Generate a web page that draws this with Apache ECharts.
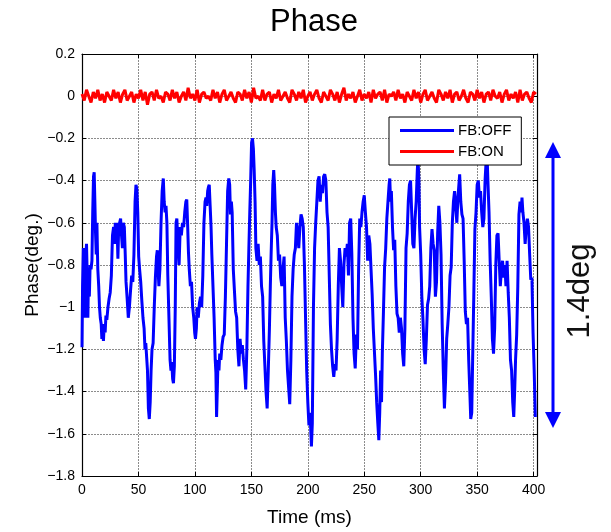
<!DOCTYPE html>
<html>
<head>
<meta charset="utf-8">
<script src="https://cdn.jsdelivr.net/npm/echarts@6/dist/echarts.min.js"></script>
<style>html,body{margin:0;padding:0;background:#fff;}#c{width:611px;height:532px;}</style>
</head>
<body>
<div id="c"></div>
<script>
const chartTitle = 'Phase';
const xName = 'Time (ms)';
const yName = 'Phase(deg.)';
const seriesNames = ['FB:OFF', 'FB:ON'];
const annotationText = '1.4deg';

// FB:OFF (blue) samples: time (ms) and phase (deg)
const timeOff = [
  0, 0.5, 1.2, 2, 2.6, 3.2, 4, 4.6, 5.2, 5.8,
  6.5, 7.2, 8, 8.8, 9.5, 10.2, 10.8, 11.4, 12, 12.6,
  13.2, 14, 14.8, 15.5, 16.2, 17, 17.6, 18.3, 19, 19.7,
  20.5, 21.2, 22, 23, 24, 25, 26, 27, 28, 28.8,
  29.5, 30.3, 31, 31.8, 32.5, 33.3, 34.2, 35, 35.8, 36.6,
  37.5, 38.3, 39, 40, 41, 42, 43, 44, 45, 46,
  47, 47.8, 48.6, 49.4, 50.2, 51, 52, 53, 54, 55,
  55.8, 56.5, 57.3, 58, 58.8, 59.6, 60.4, 61.2, 62, 63,
  64, 65, 66, 66.7, 67.4, 68.1, 69, 70, 71, 72,
  72.8, 73.6, 74.4, 75.2, 76, 77, 78, 78.8, 79.5, 80.3,
  81, 81.8, 82.6, 83.3, 84, 85, 86, 87, 88, 89,
  90, 91, 92, 92.8, 93.5, 94.3, 95, 96, 97, 98,
  99, 99.8, 100.5, 101.3, 102, 103, 104, 105, 106, 107,
  108, 109, 109.8, 110.5, 111.3, 112, 112.7, 113.5, 114.3, 115,
  116, 117, 118, 118.6, 119.2, 119.8, 120.5, 121.3, 122, 123,
  124, 125, 126, 127, 128, 129, 130, 130.8, 131.5, 132.3,
  133, 134, 135, 136, 137, 138, 139, 140, 141, 142,
  143, 144, 145, 146, 147, 147.8, 148.6, 149.4, 150.2, 151,
  151.8, 152.5, 153.3, 154, 155, 156, 157, 158, 159, 160,
  161, 162, 163, 164, 165, 166, 166.8, 167.5, 168.3, 169,
  169.8, 170.5, 171.3, 172, 173, 174, 175, 176, 177, 178,
  179, 180, 181, 182, 183, 184, 185, 186, 187, 188,
  189, 190, 191, 192, 193, 194, 195, 196, 197, 198,
  199, 200, 201, 202, 203.2, 204, 205, 206, 207, 208,
  209, 210, 211, 212, 213, 214, 215, 216, 217, 218,
  219, 220, 221, 222, 223, 224, 225, 226, 227, 228,
  229, 230, 231, 232, 233, 234, 235, 236, 237, 238,
  239, 240, 241, 242, 243, 244, 245, 246, 247, 248,
  249, 250, 251, 252, 253, 254, 255, 256, 257, 258,
  259, 260, 261, 262, 262.9, 263.7, 264.5, 265.3, 266, 267,
  268, 269, 270, 271, 272, 272.6, 273.3, 274, 275, 276,
  277, 278, 279, 280, 281, 282, 283, 284, 285, 286,
  287, 288, 289, 290, 291, 292, 293, 294, 295, 296,
  297, 297.6, 298.4, 299, 300, 301, 302, 303, 304, 305,
  306, 307, 308, 309, 310, 311, 312, 313, 314, 315,
  316, 317, 318, 319, 320, 321, 322, 323, 324, 325,
  326, 327, 328, 329, 330, 331, 332, 333, 334.5, 335.5,
  336.5, 337.5, 338.5, 339.5, 340.5, 341.5, 342.5, 343.5, 344.3, 345.2,
  346, 347, 348, 349, 350, 351, 352, 353, 354, 355,
  356, 357, 358, 358.8, 359.5, 360.5, 361.5, 362.5, 363.5, 364.5,
  365.5, 366.5, 367.5, 368.5, 369.5, 370.5, 371.5, 372.5, 373.5, 374.5,
  375.5, 376.5, 377.5, 378.5, 379.5, 380.5, 381.5, 382.4, 383.2, 384,
  385, 386, 387, 388, 389, 389.7, 390.5, 391.5, 392.5, 393.5,
  394.5, 395.5, 396.5, 397.5, 398.5, 399.5, 400.5, 401.5
];
const phaseOff = [
  -1.19, -0.90, -0.72, -0.95, -1.05, -0.78, -0.70, -0.85, -1.05, -0.82,
  -0.95, -0.80, -0.82, -0.78, -0.55, -0.38, -0.36, -0.50, -0.65, -0.75,
  -0.60, -0.82, -0.90, -1.00, -1.05, -1.08, -1.15, -1.12, -1.16, -1.08,
  -1.12, -1.04, -1.06, -1.00, -0.96, -0.93, -0.85, -0.66, -0.62, -0.70,
  -0.60, -0.66, -0.60, -0.77, -0.62, -0.60, -0.58, -0.66, -0.72, -0.60,
  -0.62, -0.75, -0.88, -0.96, -1.05, -1.00, -0.92, -0.85, -0.88, -0.75,
  -0.50, -0.42, -0.44, -0.55, -0.76, -0.82, -0.88, -0.97, -1.05, -1.10,
  -1.20, -1.17, -1.24, -1.30, -1.48, -1.53, -1.45, -1.30, -1.20, -1.17,
  -1.00, -0.86, -0.76, -0.73, -0.82, -0.90, -0.82, -0.60, -0.45, -0.39,
  -0.50, -0.55, -0.52, -0.60, -0.85, -1.05, -1.25, -1.30, -1.26, -1.34,
  -1.36, -1.28, -1.00, -0.60, -0.58, -0.70, -0.80, -0.62, -0.66, -0.60,
  -0.62, -0.55, -0.50, -0.49, -0.60, -0.74, -0.82, -0.90, -0.88, -1.00,
  -1.05, -1.12, -1.15, -1.10, -1.00, -1.05, -0.98, -0.95, -1.00, -0.85,
  -0.60, -0.50, -0.48, -0.52, -0.45, -0.43, -0.42, -0.52, -0.62, -0.75,
  -0.90, -1.05, -1.25, -1.31, -1.52, -1.40, -1.25, -1.30, -1.22, -1.25,
  -1.18, -1.14, -1.13, -0.95, -0.70, -0.45, -0.39, -0.42, -0.56, -0.50,
  -0.55, -0.82, -0.92, -1.02, -1.05, -1.20, -1.28, -1.15, -1.22, -1.18,
  -1.25, -1.30, -1.39, -1.20, -0.90, -0.72, -0.55, -0.40, -0.22, -0.20,
  -0.25, -0.35, -0.50, -0.72, -0.78, -0.70, -0.80, -0.76, -0.90, -0.95,
  -1.16, -1.28, -1.40, -1.48, -1.30, -1.10, -0.90, -0.75, -0.60, -0.42,
  -0.35, -0.42, -0.55, -0.62, -0.66, -0.78, -0.75, -0.86, -0.90, -0.82,
  -0.76, -1.05, -1.16, -1.30, -1.38, -1.46, -1.25, -0.95, -0.82, -0.75,
  -0.72, -0.60, -0.65, -0.72, -0.62, -0.56, -0.58, -0.62, -0.80, -1.05,
  -1.30, -1.45, -1.56, -1.50, -1.66, -1.55, -1.00, -0.72, -0.60, -0.50,
  -0.40, -0.38, -0.50, -0.42, -0.46, -0.38, -0.37, -0.40, -0.55, -0.62,
  -0.85, -1.08, -1.20, -1.28, -1.33, -1.27, -1.30, -1.15, -0.90, -0.72,
  -0.78, -0.90, -1.00, -0.80, -0.72, -0.76, -0.70, -0.85, -0.60, -0.58,
  -0.75, -1.05, -1.22, -1.29, -1.13, -1.20, -0.82, -0.58, -0.62, -0.55,
  -0.50, -0.47, -0.55, -0.62, -0.78, -0.66, -0.70, -0.82, -0.94, -1.10,
  -1.21, -1.32, -1.45, -1.55, -1.63, -1.50, -1.30, -1.45, -1.22, -1.02,
  -0.81, -0.72, -0.58, -0.50, -0.42, -0.39, -0.50, -0.45, -0.62, -0.73,
  -0.68, -0.90, -1.03, -1.05, -1.12, -1.05, -1.10, -1.22, -1.28, -1.10,
  -0.72, -0.65, -0.50, -0.42, -0.40, -0.55, -0.70, -0.72, -0.58, -0.50,
  -0.35, -0.29, -0.40, -0.62, -0.75, -0.95, -1.06, -1.20, -1.27, -1.15,
  -0.99, -0.96, -0.90, -0.72, -0.63, -0.70, -0.73, -0.95, -0.88, -0.65,
  -0.52, -0.60, -0.75, -1.08, -1.30, -1.48, -1.35, -1.15, -1.08, -1.00,
  -0.85, -0.81, -0.60, -0.50, -0.45, -0.52, -0.60, -0.48, -0.37, -0.50,
  -0.56, -0.58, -0.78, -1.02, -1.08, -1.05, -1.25, -1.40, -1.53, -1.50,
  -1.25, -0.95, -0.63, -0.55, -0.42, -0.40, -0.48, -0.45, -0.55, -0.62,
  -0.58, -0.40, -0.30, -0.28, -0.40, -0.55, -0.78, -0.95, -1.15, -1.22,
  -1.10, -0.80, -0.66, -0.65, -0.78, -0.90, -0.82, -0.78, -0.86, -0.80,
  -0.90, -0.78, -0.93, -1.05, -1.25, -1.30, -1.45, -1.52, -1.40, -1.25,
  -1.13, -0.90, -0.56, -0.50, -0.55, -0.48, -0.55, -0.60, -0.70, -0.62,
  -0.58, -0.62, -0.75, -0.87, -0.86, -1.12, -1.30, -1.52
];

// FB:ON (red) samples
const timeOn = [
  0, 2, 4, 6, 8, 10, 12, 14, 16, 18, 20, 22, 24, 26, 28, 30, 32, 34, 36, 38,
  40, 42, 44, 46, 48, 50, 52, 54, 56, 58, 60, 62, 64, 66, 68, 70, 72, 74, 76, 78,
  80, 82, 84, 86, 88, 90, 92, 94, 96, 98, 100, 102, 104, 106, 108, 110, 112, 114, 116, 118,
  120, 122, 124, 126, 128, 130, 132, 134, 136, 138, 140, 142, 144, 146, 148, 150, 152, 154, 156, 158,
  160, 162, 164, 166, 168, 170, 172, 174, 176, 178, 180, 182, 184, 186, 188, 190, 192, 194, 196, 198,
  200, 202, 204, 206, 208, 210, 212, 214, 216, 218, 220, 222, 224, 226, 228, 230, 232, 234, 236, 238,
  240, 242, 244, 246, 248, 250, 252, 254, 256, 258, 260, 262, 264, 266, 268, 270, 272, 274, 276, 278,
  280, 282, 284, 286, 288, 290, 292, 294, 296, 298, 300, 302, 304, 306, 308, 310, 312, 314, 316, 318,
  320, 322, 324, 326, 328, 330, 332, 334, 336, 338, 340, 342, 344, 346, 348, 350, 352, 354, 356, 358,
  360, 362, 364, 366, 368, 370, 372, 374, 376, 378, 380, 382, 384, 386, 388, 390, 392, 394, 396, 398,
  400, 402
];
const phaseOn = [
  0.01, -0.02, 0.03, 0.00, -0.03, 0.02, -0.01, 0.03, -0.02, 0.01,
  -0.03, 0.02, 0.00, -0.02, 0.03, -0.01, 0.02, -0.03, 0.01, 0.03,
  -0.02, 0.00, 0.02, -0.03, 0.01, -0.01, 0.03, -0.02, 0.02, -0.04,
  0.01, 0.02, -0.02, 0.03, -0.01, 0.00, -0.03, 0.02, 0.01, -0.02,
  0.03, -0.01, 0.02, -0.03, 0.00, 0.02, -0.02, 0.04, -0.01, 0.01,
  -0.02, 0.03, -0.03, 0.01, 0.02, -0.01, 0.00, -0.02, 0.03, -0.01,
  0.02, -0.03, 0.01, 0.03, -0.02, 0.00, 0.02, -0.01, -0.03, 0.02,
  0.01, -0.02, 0.03, -0.01, 0.02, -0.03, 0.04, -0.01, 0.00, -0.02,
  0.03, -0.02, 0.01, 0.02, -0.03, 0.01, -0.01, 0.03, -0.02, 0.00,
  0.02, -0.01, -0.03, 0.03, 0.01, -0.02, 0.02, -0.01, 0.03, -0.03,
  0.00, 0.02, -0.02, 0.01, 0.03, -0.01, -0.03, 0.02, 0.00, -0.02,
  0.03, 0.01, -0.02, 0.02, -0.03, 0.01, 0.04, -0.02, 0.01, -0.01,
  0.02, -0.03, 0.00, 0.03, -0.02, 0.01, -0.01, 0.02, -0.03, 0.03,
  -0.01, 0.01, 0.02, -0.02, 0.03, -0.03, 0.01, 0.00, 0.02, -0.02,
  0.03, -0.01, 0.01, -0.03, 0.02, 0.00, -0.02, 0.03, -0.01, 0.02,
  -0.03, 0.01, 0.03, -0.02, 0.00, 0.02, -0.01, -0.03, 0.03, 0.01,
  -0.02, 0.02, -0.01, 0.03, -0.03, 0.01, 0.02, -0.02, 0.00, 0.03,
  -0.01, -0.03, 0.02, 0.01, -0.02, 0.03, -0.01, 0.02, -0.03, 0.01,
  0.02, -0.02, 0.03, 0.00, -0.01, 0.02, -0.03, 0.01, 0.03, -0.02,
  0.01, -0.01, 0.02, -0.03, 0.03, -0.02, 0.01, 0.02, -0.01, -0.03,
  0.02, 0.01
];

const xMin = 0, xMax = 403, xStep = 50;
const yMin = -1.8, yMax = 0.2, yStep = 0.2;

const offData = timeOff.map((t, i) => [t, phaseOff[i]]);
const onData = timeOn.map((t, i) => [t, phaseOn[i]]);

const FONT = '"Liberation Sans", Arial, sans-serif';
const gridLine = { show: true, lineStyle: { color: '#8c8c8c', width: 1, type: [2, 1] } };
const boxLine = { show: true, onZero: false, lineStyle: { color: '#000', width: 1.2 } };
const inTick = { show: true, inside: true, length: 4, lineStyle: { color: '#000', width: 1 } };
const fmtY = v => { const r = Math.round(v * 10) / 10; return (r === 0 ? '0' : String(r)).replace('-', '\u2212'); };
const fmtX = v => (Math.abs(v % xStep) < 1e-9 ? String(v) : '');

const chart = echarts.init(document.getElementById('c'), null, { renderer: 'canvas' });
chart.setOption({
  animation: false,
  backgroundColor: '#fff',
  title: {
    text: chartTitle, left: 309, textAlign: 'center', top: 2,
    textStyle: { fontFamily: FONT, fontSize: 31, fontWeight: 'normal', color: '#000' }
  },
  grid: { left: 82, right: 74, top: 54, bottom: 54, containLabel: false },
  legend: {
    data: seriesNames, orient: 'vertical', left: 389, top: 117,
    icon: 'rect', itemWidth: 54, itemHeight: 3, itemGap: 6,
    padding: [6, 10, 6, 11],
    backgroundColor: '#fff', borderColor: '#000', borderWidth: 1, borderRadius: 0,
    textStyle: { fontFamily: FONT, fontSize: 15, color: '#000', padding: [0, 0, 0, -1] }
  },
  xAxis: [
    {
      type: 'value', min: xMin, max: xMax, interval: xStep, position: 'bottom',
      name: xName, nameLocation: 'middle', nameGap: 32, nameMoveOverlap: false,
      nameTextStyle: { fontFamily: FONT, fontSize: 19, color: '#000' },
      axisLine: boxLine, axisTick: inTick, splitLine: gridLine,
      axisLabel: { fontFamily: FONT, fontSize: 14, color: '#000', margin: 7, formatter: fmtX, showMaxLabel: true }
    },
    {
      type: 'value', min: xMin, max: xMax, interval: xStep, position: 'top',
      axisLine: boxLine, axisTick: inTick, splitLine: { show: false }, axisLabel: { show: false }
    }
  ],
  yAxis: [
    {
      type: 'value', min: yMin, max: yMax, interval: yStep, position: 'left',
      name: yName, nameLocation: 'middle', nameGap: 40, nameMoveOverlap: false,
      nameTextStyle: { fontFamily: FONT, fontSize: 19, color: '#000' },
      axisLine: boxLine, axisTick: inTick, splitLine: gridLine,
      axisLabel: { fontFamily: FONT, fontSize: 14, color: '#000', margin: 7, formatter: fmtY }
    },
    {
      type: 'value', min: yMin, max: yMax, interval: yStep, position: 'right',
      axisLine: boxLine, axisTick: inTick, splitLine: { show: false }, axisLabel: { show: false }
    }
  ],
  series: [
    {
      name: seriesNames[0], type: 'line', data: offData, showSymbol: false, symbol: 'none',
      lineStyle: { color: '#0000ff', width: 3 }, itemStyle: { color: '#0000ff' }, z: 3
    },
    {
      name: seriesNames[1], type: 'line', data: onData, showSymbol: false, symbol: 'none',
      lineStyle: { color: '#ff0000', width: 3 }, itemStyle: { color: '#ff0000' }, z: 3
    }
  ],
  graphic: [
    { type: 'line', shape: { x1: 553, y1: 152, x2: 553, y2: 418 }, style: { stroke: '#0000ff', lineWidth: 3 } },
    { type: 'polygon', shape: { points: [[553, 142], [545, 158], [561, 158]] }, style: { fill: '#0000ff' } },
    { type: 'polygon', shape: { points: [[553, 428], [545, 412], [561, 412]] }, style: { fill: '#0000ff' } },
    {
      type: 'text', x: 580, y: 291, rotation: Math.PI / 2,
      style: { text: annotationText, fontFamily: FONT, fontSize: 31, fill: '#111', align: 'center', verticalAlign: 'middle' }
    }
  ]
});
</script>
</body>
</html>
